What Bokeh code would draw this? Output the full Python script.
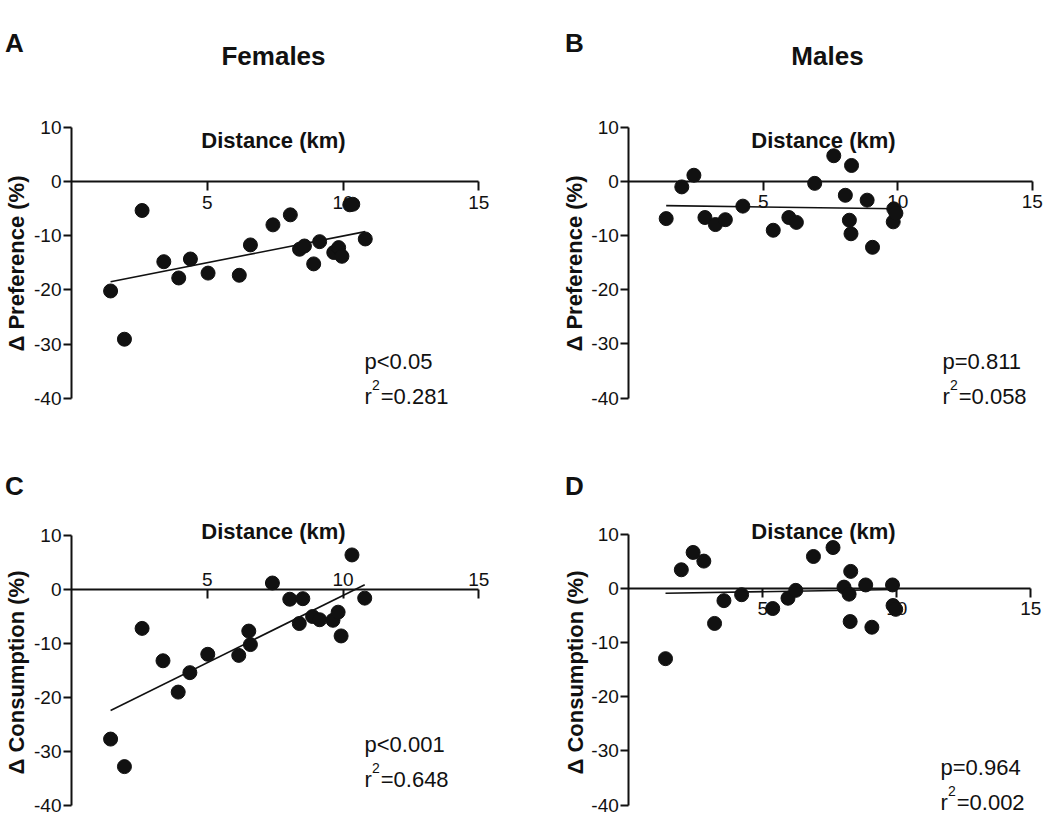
import math
from bokeh.plotting import figure
from bokeh.models import Range1d, LinearAxis, FixedTicker, Label
from bokeh.layouts import column, row
from bokeh.embed import file_html
from bokeh.resources import INLINE

# ---------------- data ----------------
fem_pref_x = [1.44, 1.95, 2.60, 3.40, 3.95, 4.38, 5.03, 6.18, 6.59, 7.42, 8.06,
              8.40, 8.58, 8.92, 9.14, 9.66, 9.84, 9.96, 10.25, 10.36, 10.82]
fem_pref_y = [-20.2, -29.1, -5.35, -14.8, -17.8, -14.3, -16.9, -17.3, -11.7, -8.0, -6.15,
              -12.5, -11.9, -15.2, -11.1, -13.1, -12.2, -13.8, -4.3, -4.2, -10.6]
fem_pref_fit = (0.985, -19.9)          # slope, intercept
fem_pref_p = "p<0.05"
fem_pref_r2 = "0.281"

male_pref_x = [1.39, 1.97, 2.42, 2.83, 3.22, 3.59, 4.24, 5.37, 5.95, 6.23, 6.91,
               7.62, 8.05, 8.20, 8.26, 8.28, 8.86, 9.06, 9.83, 9.85, 9.93]
male_pref_y = [-6.9, -1.05, 1.1, -6.7, -8.0, -7.1, -4.6, -9.05, -6.7, -7.6, -0.4,
               4.7, -2.6, -7.2, -9.7, 2.9, -3.5, -12.2, -7.5, -5.1, -5.9]
male_pref_fit = (-0.07, -4.4)
male_pref_p = "p=0.811"
male_pref_r2 = "0.058"

fem_cons_x = [1.44, 1.95, 2.60, 3.37, 3.93, 4.36, 5.02, 6.16, 6.53, 6.59, 7.40,
              8.04, 8.52, 8.39, 8.88, 9.14, 9.63, 9.82, 9.93, 10.33, 10.80]
fem_cons_y = [-27.7, -32.8, -7.2, -13.2, -19.0, -15.4, -12.0, -12.2, -7.7, -10.2, 1.2,
              -1.8, -1.7, -6.3, -5.0, -5.6, -5.7, -4.2, -8.6, 6.4, -1.6]
fem_cons_fit = (2.49, -26.0)
fem_cons_p = "p<0.001"
fem_cons_r2 = "0.648"

male_cons_x = [1.37, 1.96, 2.40, 2.80, 3.20, 3.55, 4.21, 5.37, 5.94, 6.23, 6.89,
               7.62, 8.03, 8.22, 8.28, 8.26, 8.84, 9.07, 9.84, 9.86, 9.96]
male_cons_y = [-13.0, 3.4, 6.6, 5.0, -6.5, -2.3, -1.2, -3.75, -1.85, -0.4, 5.85,
               7.5, 0.2, -1.1, 3.1, -6.15, 0.6, -7.2, 0.6, -3.2, -3.9]
male_cons_fit = (0.078, -1.03)
male_cons_p = "p=0.964"
male_cons_r2 = "0.002"

y_ticks = [-40, -30, -20, -10, 0, 10]
x_ticks = [5, 10, 15]
x_title = "Distance (km)"

FONT = "Liberation Sans"
INK = "#111111"


def make_panel(left, top, w, h, axx, sx, ay0, sy):
    """left/top: screen position of the figure; axx: screen x of x=0; sx px/unit;
    ay0: screen y of y=0; sy px/unit."""
    x0 = -(axx - left) / sx
    x1 = (left + w - axx) / sx
    y1 = (ay0 - top) / sy
    y0 = -(top + h - ay0) / sy
    p = figure(width=w, height=h, x_range=Range1d(x0, x1), y_range=Range1d(y0, y1),
               x_axis_location=None, y_axis_location=None, toolbar_location=None,
               output_backend="svg", min_border=0)
    p.outline_line_color = None
    p.background_fill_color = "white"
    p.border_fill_color = "white"
    p.xgrid.visible = False
    p.ygrid.visible = False

    def to_data(px, py):
        return (px - axx) / sx, (ay0 - py) / sy
    return p, to_data


def add_label(p, to_data, px, py, text, size, bold=False, align="left",
              baseline="alphabetic", angle=0.0):
    x, y = to_data(px, py)
    p.add_layout(Label(x=x, y=y, text=text, text_font=FONT, text_font_size=size,
                       text_font_style="bold" if bold else "normal",
                       text_align=align, text_baseline=baseline, angle=angle,
                       text_color=INK))


def add_stats(p, to_data, px, py, ptext, r2text):
    add_label(p, to_data, px, py, ptext, "22px")
    rb = py + 35
    add_label(p, to_data, px, rb, "r", "22px")
    add_label(p, to_data, px + 7.6, rb - 12, "2", "14px")
    add_label(p, to_data, px + 16.2, rb, "=" + r2text, "22px")


def add_axes(p, labels_above=False):
    overrides = {t: str(t) for t in y_ticks}
    ya = LinearAxis(fixed_location=0, bounds=(-40, 10),
                    ticker=FixedTicker(ticks=y_ticks, minor_ticks=[]),
                    major_label_overrides=overrides,
                    major_tick_out=8, major_tick_in=0, minor_tick_out=0, minor_tick_in=0,
                    axis_line_width=2, major_tick_line_width=2,
                    axis_line_color=INK, major_tick_line_color=INK,
                    major_label_text_font=FONT, major_label_text_font_size="19px",
                    major_label_text_color=INK, major_label_standoff=2)
    ya.level = "underlay"
    p.add_layout(ya, "left")
    xa = LinearAxis(fixed_location=0, bounds=(0, 15),
                    ticker=FixedTicker(ticks=x_ticks, minor_ticks=[]),
                    minor_tick_out=0, minor_tick_in=0,
                    axis_line_width=2, major_tick_line_width=2,
                    axis_line_color=INK, major_tick_line_color=INK,
                    major_label_text_font=FONT, major_label_text_font_size="19px",
                    major_label_text_color=INK)
    xa.level = "underlay"
    if labels_above:
        xa.major_tick_out = 0
        xa.major_tick_in = 9
        xa.major_label_standoff = 4
        p.add_layout(xa, "above")
    else:
        xa.major_tick_out = 9
        xa.major_tick_in = 0
        xa.major_label_standoff = 5
        p.add_layout(xa, "below")


def add_data(p, xs, ys, fit):
    slope, icpt = fit
    lx = [min(xs), max(xs)]
    ly = [slope * v + icpt for v in lx]
    p.line(lx, ly, line_color=INK, line_width=1.6)
    p.scatter(xs, ys, size=14, fill_color=INK, line_color=INK)


W_L, W_R = 525, 521
H_TOP, H_BOT = 410, 406

# Panel A
pA, dA = make_panel(0, 0, W_L, H_TOP, 71.0, 27.15, 181.0, 5.42)
add_axes(pA)
add_data(pA, fem_pref_x, fem_pref_y, fem_pref_fit)
add_label(pA, dA, 14, 42, "A", "26px", bold=True, align="center", baseline="middle")
add_label(pA, dA, 273, 55, "Females", "26px", bold=True, align="center", baseline="middle")
add_label(pA, dA, 273, 140, x_title, "22px", bold=True, align="center")
add_label(pA, dA, 16, 263, "\u0394 Preference (%)", "22px", bold=True, align="center",
          baseline="middle", angle=math.pi / 2)
add_stats(pA, dA, 364, 361, fem_pref_p, fem_pref_r2)

# Panel B
pB, dB = make_panel(W_L, 0, W_R, H_TOP, 628.3, 26.9, 180.7, 5.42)
add_axes(pB)
add_data(pB, male_pref_x, male_pref_y, male_pref_fit)
add_label(pB, dB, 574, 42, "B", "26px", bold=True, align="center", baseline="middle")
add_label(pB, dB, 827, 55, "Males", "26px", bold=True, align="center", baseline="middle")
add_label(pB, dB, 823, 140, x_title, "22px", bold=True, align="center")
add_label(pB, dB, 574, 263, "\u0394 Preference (%)", "22px", bold=True, align="center",
          baseline="middle", angle=math.pi / 2)
add_stats(pB, dB, 942, 361, male_pref_p, male_pref_r2)

# Panel C
pC, dC = make_panel(0, H_TOP, W_L, H_BOT, 71.0, 27.15, 589.0, 5.40)
add_axes(pC, labels_above=True)
add_data(pC, fem_cons_x, fem_cons_y, fem_cons_fit)
add_label(pC, dC, 14, 485, "C", "26px", bold=True, align="center", baseline="middle")
add_label(pC, dC, 273, 531, x_title, "22px", bold=True, align="center")
add_label(pC, dC, 16, 672, "\u0394 Consumption (%)", "22px", bold=True, align="center",
          baseline="middle", angle=math.pi / 2)
add_stats(pC, dC, 364, 744, fem_cons_p, fem_cons_r2)

# Panel D
pD, dD = make_panel(W_L, H_TOP, W_R, H_BOT, 628.3, 26.8, 587.7, 5.42)
add_axes(pD)
add_data(pD, male_cons_x, male_cons_y, male_cons_fit)
add_label(pD, dD, 574, 485, "D", "26px", bold=True, align="center", baseline="middle")
add_label(pD, dD, 823, 531, x_title, "22px", bold=True, align="center")
add_label(pD, dD, 575, 672, "\u0394 Consumption (%)", "22px", bold=True, align="center",
          baseline="middle", angle=math.pi / 2)
add_stats(pD, dD, 940, 767, male_cons_p, male_cons_r2)

layout = column(row(pA, pB), row(pC, pD))
open("out.html", "w").write(file_html(layout, INLINE))
